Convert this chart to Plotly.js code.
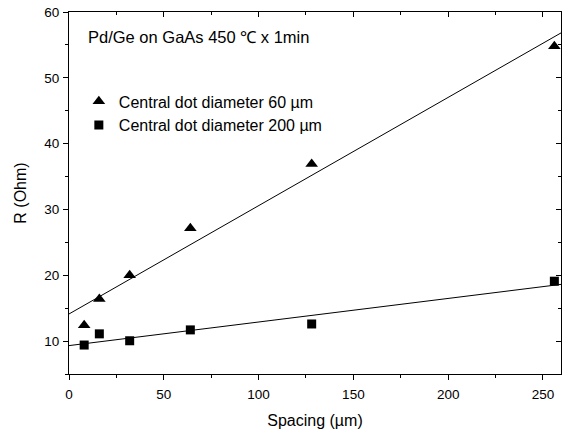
<!DOCTYPE html>
<html>
<head>
<meta charset="utf-8">
<script src="https://cdn.plot.ly/plotly-3.0.1.min.js"></script>
<style>html,body{margin:0;padding:0;background:#fff;}#chart{width:562px;height:434px;}</style>
</head>
<body>
<div id="chart"></div>
<script>
// Data
const spacing = [8, 16, 32, 64, 128, 256];            // µm
const r60 = [12.4, 16.4, 20.0, 27.15, 36.9, 54.8];     // Ohm, central dot 60 µm
const r200 = [9.4, 11.1, 10.05, 11.7, 12.6, 19.1];     // Ohm, central dot 200 µm
const seriesNames = ['Central dot diameter 60 \u00b5m', 'Central dot diameter 200 \u00b5m'];
const xRange = [0, 259.5];
const yRange = [5, 60];
const xTicks = [0, 50, 100, 150, 200, 250];
const yTicks = [10, 20, 30, 40, 50, 60];
const chartTitle = 'Pd/Ge on GaAs 450 \u2103 x 1min';

function linfit(x, y) {
  const n = x.length;
  const mx = x.reduce((a, b) => a + b, 0) / n;
  const my = y.reduce((a, b) => a + b, 0) / n;
  let sxy = 0, sxx = 0;
  for (let i = 0; i < n; i++) { sxy += (x[i] - mx) * (y[i] - my); sxx += (x[i] - mx) ** 2; }
  const b = sxy / sxx;
  return { a: my - b * mx, b: b };
}
const f60 = linfit(spacing, r60);
const f200 = linfit(spacing, r200);
const fitX = [xRange[0], xRange[1]];

const font = 'Arial, "Liberation Sans", sans-serif';

const traces = [
  { x: spacing, y: r60, mode: 'markers', type: 'scatter', name: seriesNames[0], legendgroup: 'a',
    marker: { symbol: 'triangle-up', size: 11, color: '#000' }, cliponaxis: false },
  { x: spacing, y: r200, mode: 'markers', type: 'scatter', name: seriesNames[1], legendgroup: 'b',
    marker: { symbol: 'square', size: 9, color: '#000' }, cliponaxis: false },
  { x: fitX, y: fitX.map(v => f60.a + f60.b * v), mode: 'lines', type: 'scatter', showlegend: false,
    line: { color: '#000', width: 1 }, hoverinfo: 'skip' },
  { x: fitX, y: fitX.map(v => f200.a + f200.b * v), mode: 'lines', type: 'scatter', showlegend: false,
    line: { color: '#000', width: 1 }, hoverinfo: 'skip' },
  { x: spacing, y: r60, xaxis: 'x2', yaxis: 'y2', mode: 'markers', type: 'scatter', showlegend: false,
    marker: { opacity: 0 }, hoverinfo: 'skip' }
];

const baseAxis = {
  showgrid: false, zeroline: false, showline: true, linecolor: '#000', linewidth: 1,
  tickcolor: '#000', tickwidth: 1,
  tickfont: { family: font, size: 13.5, color: '#000' }
};

const layout = {
  width: 562, height: 434,
  margin: { l: 69, r: 1, t: 12, b: 60 },
  paper_bgcolor: '#fff', plot_bgcolor: '#fff',
  font: { family: font, color: '#000' },
  showlegend: true,
  legend: { x: 0.02, y: 0.80, xanchor: 'left', yanchor: 'top', bgcolor: 'rgba(0,0,0,0)',
            font: { family: font, size: 16, color: '#000' }, tracegroupgap: 0 },
  xaxis: Object.assign({}, baseAxis, {
    range: xRange, tickmode: 'array', tickvals: xTicks, ticktext: xTicks.map(String),
    ticks: 'outside', ticklen: 5, ticklabelstandoff: 3,
    minor: { ticks: 'outside', ticklen: 3, dtick: 25, tick0: 0, tickcolor: '#000', showgrid: false },
    title: { text: 'Spacing (\u00b5m)', font: { family: font, size: 16, color: '#000' }, standoff: 13 }
  }),
  yaxis: Object.assign({}, baseAxis, {
    range: yRange, tickmode: 'array', tickvals: yTicks, ticktext: yTicks.map(String),
    ticks: 'outside', ticklen: 5, ticklabelstandoff: 1,
    minor: { ticks: 'outside', ticklen: 3, dtick: 5, tick0: 0, tickcolor: '#000', showgrid: false },
    title: { text: 'R (Ohm)', font: { family: font, size: 16, color: '#000' }, standoff: 13 }
  }),
  xaxis2: Object.assign({}, baseAxis, {
    overlaying: 'x', side: 'top', range: xRange, tickmode: 'array', tickvals: xTicks,
    showticklabels: false, ticks: 'inside', ticklen: 5,
    minor: { ticks: 'inside', ticklen: 3, dtick: 25, tick0: 0, tickcolor: '#000', showgrid: false }
  }),
  yaxis2: Object.assign({}, baseAxis, {
    overlaying: 'y', side: 'right', range: yRange, tickmode: 'array', tickvals: yTicks,
    showticklabels: false, ticks: 'inside', ticklen: 5,
    minor: { ticks: 'inside', ticklen: 3, dtick: 5, tick0: 0, tickcolor: '#000', showgrid: false }
  }),
  annotations: [
    { text: chartTitle, xref: 'paper', yref: 'paper', x: 0.035, y: 0.931, xanchor: 'left', yanchor: 'middle',
      showarrow: false, font: { family: font, size: 16.5, color: '#000' } }
  ]
};

Plotly.newPlot('chart', traces, layout, { staticPlot: true, displayModeBar: false });
</script>
</body>
</html>
